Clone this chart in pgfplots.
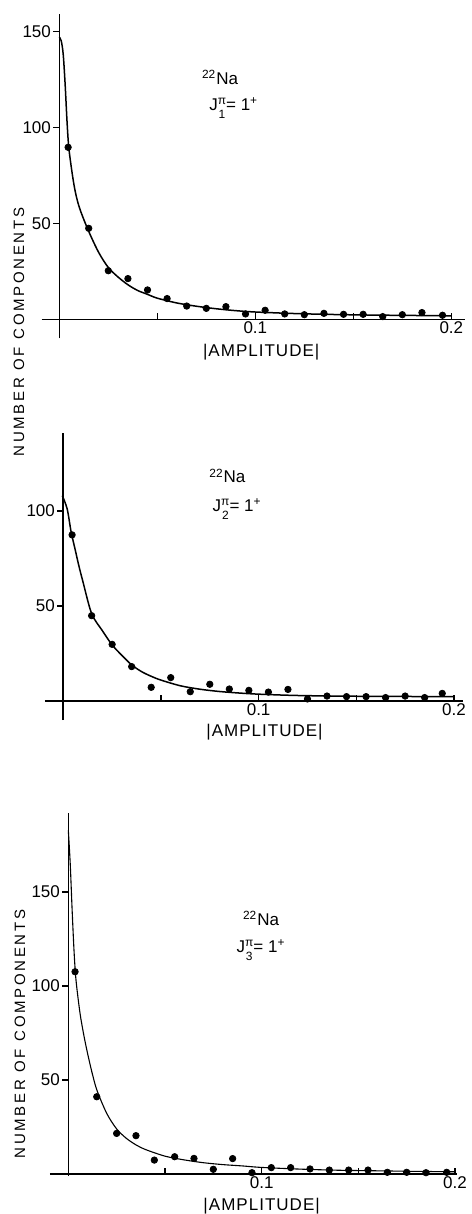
\documentclass[border=0pt]{standalone}
\usepackage{fontspec}
\setmainfont{Liberation Sans}
\newfontfamily\spaced[LetterSpace=18]{Liberation Sans}
\newfontfamily\amp[LetterSpace=6]{Liberation Sans}
\usepackage{pgfplots}
\pgfplotsset{compat=1.18}

% histogram points (bin centres) and fitted curve, one table per panel
\pgfplotstableread{
x y
0.0045 89.6
0.015 47.4
0.025 25.3
0.035 21.2
0.045 15.3
0.055 10.8
0.065 6.9
0.075 5.7
0.085 6.6
0.095 2.8
0.105 4.7
0.115 2.8
0.125 2.4
0.135 3.1
0.145 2.6
0.155 2.6
0.165 1.4
0.175 2.4
0.185 3.5
0.1955 2.1
}\ptsA
\pgfplotstableread{
x y
0 147
0.001 145
0.002 138
0.003 122
0.004 102
0.005 88
0.0075 70
0.010 59
0.0145 47
0.02 35
0.025 27
0.03 22
0.035 18
0.04 15
0.045 13
0.05 11
0.06 8.5
0.07 6.8
0.08 5.5
0.09 4.5
0.1 3.8
0.12 3
0.14 2.5
0.16 2.2
0.18 2
0.2 1.8
}\fitA
\pgfplotstableread{
x y
0.0045 87.4
0.0145 44.9
0.025 29.8
0.035 18.1
0.045 7.2
0.055 12.3
0.065 4.9
0.075 8.8
0.085 6.3
0.095 5.6
0.105 4.7
0.115 6.1
0.125 1.1
0.135 2.6
0.145 2.3
0.155 2.3
0.165 1.8
0.175 2.6
0.185 1.8
0.194 4.0
}\ptsB
\pgfplotstableread{
x y
-0.0005 108
0.002 101
0.004 89
0.006 80
0.008 71
0.01 63
0.0145 46
0.02 37
0.025 29.5
0.03 24
0.035 19
0.04 15.5
0.045 13
0.05 11
0.06 8
0.07 6.2
0.08 5
0.09 4.2
0.1 3.6
0.12 2.9
0.15 2.5
0.2 2.3
}\fitB
\pgfplotstableread{
x y
0.0035 107.6
0.0147 41.1
0.025 21.6
0.035 20.4
0.0445 7.4
0.055 9.2
0.065 8.3
0.075 2.5
0.085 8.2
0.095 0.7
0.105 3.4
0.115 3.4
0.125 2.7
0.135 2.1
0.145 2.1
0.155 2.1
0.165 0.9
0.175 0.9
0.185 0.7
0.1957 0.9
}\ptsC
\pgfplotstableread{
x y
0 183
0.001 165
0.002 140
0.003 118
0.004 103
0.006 86
0.008 74
0.01 64
0.0125 53
0.015 44
0.02 32
0.025 24
0.03 19
0.035 15.5
0.04 13
0.05 9.5
0.06 7.5
0.07 6
0.08 5
0.09 4.3
0.1 3.5
0.12 2.6
0.14 2
0.16 1.7
0.18 1.4
0.2 1.2
}\fitC

\pgfplotsset{
  panel/.style={
    scale only axis, axis lines=middle, clip=false,
    anchor=origin,
    axis line style={draw=none},
    xtick={0.05,0.1,0.15,0.2}, xticklabels={,0.1,,0.2},
    xtick align=inside, ytick align=outside,
    major tick length=3pt,
    tick style={line width=0.7pt, black},
    tick label style={font=\fontsize{8.5}{8.5}\selectfont, inner sep=1pt},
    /pgf/number format/assume math mode=true,
  },
  dots/.style={only marks, mark=*, mark size=1.6pt, black},
  fit/.style={no marks, smooth, black, line width=0.75pt},
}
% the two axis lines of a panel, drawn through the origin
\newcommand{\axlines}[4]{%
  \draw[line width=0.8pt] (axis cs:#1,0) -- (axis cs:#2,0);
  \draw[line width=0.8pt] (axis cs:0,#3) -- (axis cs:0,#4);}
% J with pi above and the state index below
\newcommand{\jpi}[1]{J\raisebox{-4.2pt}{\fontsize{6}{8}\selectfont\shortstack{π\\#1}}= 1\textsuperscript{+}}
\newcommand{\nalabel}[3]{%
  \node[inner sep=0pt, font=\fontsize{8.5}{8.5}\selectfont] at (axis cs:#1) {\textsuperscript{22}Na};
  \node[inner sep=0pt, font=\fontsize{8.5}{8.5}\selectfont] at (axis cs:#2) {\jpi{#3}};}

\begin{document}
\begin{tikzpicture}
\path[use as bounding box] (0,0) rectangle (235.5pt,-607pt);

\begin{axis}[panel, at={(29.65pt,-159.65pt)},
    width=211.7pt, height=162.2pt,
    xmin=-0.009, xmax=0.207, ymin=-10, ymax=159,
    ytick={50,100,150}]
  \axlines{-0.009}{0.207}{-10}{159}
  \addplot[fit] table {\fitA};
  \addplot[dots] table {\ptsA};
  \nalabel{0.082,126}{0.089,110}{1}
  \node[font=\amp\fontsize{8.5}{8.5}\selectfont] at (axis cs:0.103,-17) {|AMPLITUDE|};
\end{axis}

\begin{axis}[panel, at={(31.65pt,-350.5pt)},
    width=209.2pt, height=143.5pt,
    xmin=-0.0094, xmax=0.2048, ymin=-10, ymax=141,
    ytick={50,100}]
  \axlines{-0.0094}{0.2048}{-10}{141}
  \addplot[fit] table {\fitB};
  \addplot[dots] table {\ptsB};
  \nalabel{0.084,118.5}{0.089,101}{2}
  \node[font=\amp\fontsize{8.5}{8.5}\selectfont] at (axis cs:0.103,-16.3) {|AMPLITUDE|};
\end{axis}

\begin{axis}[panel, at={(34.15pt,-587pt)},
    width=203.5pt, height=181.4pt,
    xmin=-0.0095, xmax=0.201, ymin=-1, ymax=192,
    ytick={50,100,150}]
  \axlines{-0.0095}{0.201}{-1}{192}
  \addplot[fit, line width=0.55pt] table {\fitC};
  \addplot[dots] table {\ptsC};
  \nalabel{0.0997,136}{0.0997,119}{3}
  \node[font=\amp\fontsize{8.5}{8.5}\selectfont] at (axis cs:0.100,-17) {|AMPLITUDE|};
\end{axis}

\node[rotate=90, font=\spaced\fontsize{7.5}{7.5}\selectfont] at (9.5pt,-166pt) {NUMBER\hspace{0.5em}OF\hspace{0.5em}COMPONENTS};
\node[rotate=90, font=\spaced\fontsize{7.5}{7.5}\selectfont] at (10pt,-517pt) {NUMBER\hspace{0.5em}OF\hspace{0.5em}COMPONENTS};
\end{tikzpicture}
\end{document}
